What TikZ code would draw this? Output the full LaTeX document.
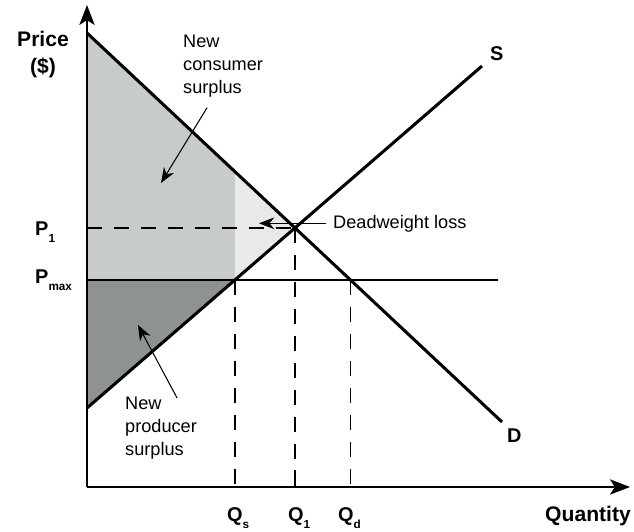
\documentclass[tikz,border=0pt]{standalone}
\usepackage{fontspec}
\setmainfont{Liberation Sans}
\usetikzlibrary{arrows.meta, calc}
\definecolor{csgray}{RGB}{199,203,203}
\definecolor{dwlgray}{RGB}{233,233,233}
\definecolor{psgray}{RGB}{142,147,146}
\newcommand{\econsub}[2]{#1\raisebox{-6pt}{\fontsize{10}{10}\selectfont #2}}

\begin{document}
\begin{tikzpicture}[
    x=0.03cm, y=-0.03cm,
    axisline/.style={line width=1.6pt, -{Stealth[length=17pt, width=13pt, inset=4pt]}},
    curve/.style={line width=2.6pt},
    guide/.style={line width=1.2pt, dash pattern=on 13pt off 10pt},
    ceiling/.style={line width=1.1pt},
    note/.style={line width=0.9pt, -{Stealth[length=13pt, width=10pt, inset=4pt]}},
    axlbl/.style={font=\fontsize{18}{23}\selectfont\bfseries, inner sep=0pt},
    ptlbl/.style={font=\fontsize{17}{20}\selectfont\bfseries, inner sep=0pt},
    txt/.style={font=\fontsize{15.5}{19.6}\selectfont, inner sep=0pt, align=left}
  ]
    \useasboundingbox (0,0) rectangle (634,532);

    % Axes and curve end points
    \coordinate (O)     at (87,487);
    \coordinate (ytip)  at (87,5);
    \coordinate (xtip)  at (630,487);
    \coordinate (dtop)  at (87,33);
    \coordinate (dend)  at (502,422);
    \coordinate (sbot)  at (87,408);
    \coordinate (send)  at (482,66);
    \coordinate (pmaxL) at (87,280);
    \coordinate (pmaxR) at (498,280);

    % Key points
    \coordinate (E)    at (intersection of dtop--dend and sbot--send);
    \coordinate (qs)   at (intersection of sbot--send and pmaxL--pmaxR);
    \coordinate (qd)   at (intersection of dtop--dend and pmaxL--pmaxR);
    \coordinate (qsup) at (qs |- dtop);
    \coordinate (dq)   at (intersection of dtop--dend and qs--qsup);
    \coordinate (p1)   at (O |- E);

    % Surplus areas
    \fill[csgray]  (dtop) -- (dq) -- (qs) -- (pmaxL) -- cycle;
    \fill[dwlgray] (dq) -- (E) -- (qs) -- cycle;
    \fill[psgray]  (pmaxL) -- (qs) -- (sbot) -- cycle;

    % Guide lines
    \draw[guide] (p1) -- (E);
    \draw[guide] (E)  -- (E |- O);
    \draw[guide] (qs) -- (qs |- O);
    \draw[guide] (qd) -- (qd |- O);
    \draw[ceiling] (pmaxL) -- (pmaxR);

    % Demand and supply
    \draw[curve] (dtop) -- (dend);
    \draw[curve] (sbot) -- (send);

    % Axes
    \draw[axisline] (O) -- (ytip);
    \draw[axisline] (O) -- (xtip);

    % Axis labels
    \node[axlbl, align=center, anchor=north] (price) at (43,31) {Price\\(\$)};
    \node[axlbl, anchor=base east] (qty) at (631,521) {Quantity};
    \node[ptlbl, anchor=base west] (slbl) at (490,60)  {S};
    \node[ptlbl, anchor=base west] (dlbl) at (507,442) {D};
    \node[ptlbl, anchor=base west] (p1lbl)   at (35,235)  {\econsub{P}{1}};
    \node[ptlbl, anchor=base west] (pmaxlbl) at (35,283)  {\econsub{P}{max}};
    \node[ptlbl, anchor=base west] (qslbl)   at (227,521) {\econsub{Q}{s}};
    \node[ptlbl, anchor=base west] (q1lbl)   at (288,521) {\econsub{Q}{1}};
    \node[ptlbl, anchor=base west] (qdlbl)   at (338,521) {\econsub{Q}{d}};

    % Annotations
    \node[txt, anchor=north west] (cslbl) at (183,35)  {New\\consumer\\surplus};
    \node[txt, anchor=north west] (pslbl) at (125,397) {New\\producer\\surplus};
    \node[txt, anchor=base west]  (dwl)   at (333,228) {Deadweight loss};
    \coordinate (cstip)  at (161,183);
    \coordinate (pstip)  at (138,325);
    \coordinate (dwltip) at (259,223);
    \draw[note] ($(cslbl.south)+(-16,10)$) -- (cstip);
    \draw[note] ($(pslbl.north)+(16,1)$)   -- (pstip);
    \draw[note] ($(dwl.west)+(-7,0)$)      -- (dwltip |- dwl.west);

  \end{tikzpicture}
\end{document}
